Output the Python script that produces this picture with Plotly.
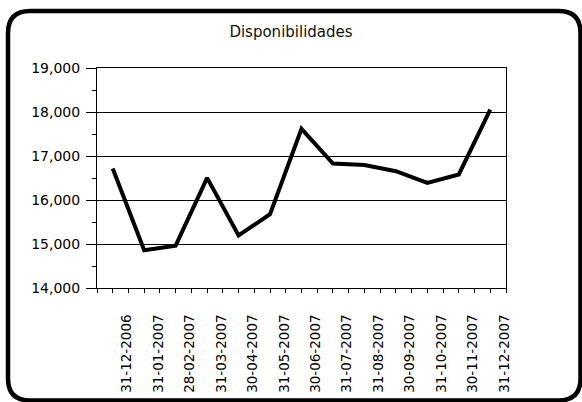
import plotly.graph_objects as go

dates = ["31-12-2006", "31-01-2007", "28-02-2007", "31-03-2007", "30-04-2007",
         "31-05-2007", "30-06-2007", "31-07-2007", "31-08-2007", "30-09-2007",
         "31-10-2007", "30-11-2007", "31-12-2007"]
values = [16716, 14856, 14962, 16503, 15194, 15677, 17618, 16828, 16797,
          16655, 16390, 16580, 18054]
title_text = "Disponibilidades"

W, H = 582, 402
L, R, T, B = 97, 506, 68, 288
pw, ph = R - L, B - T

def px(x):
    return (x - L) / pw

def py(y):
    return (B - y) / ph

idx = list(range(len(dates)))

fig = go.Figure()
fig.add_trace(go.Scatter(x=idx, y=values, mode="lines",
                         line=dict(color="black", width=4),
                         hoverinfo="skip", showlegend=False))

# rounded outer frame
x0, y0, x1, y1, r = 8, 11, 580.5, 400.5, 22
path = (f"M {px(x0+r)},{py(y0)} L {px(x1-r)},{py(y0)} Q {px(x1)},{py(y0)} {px(x1)},{py(y0+r)} "
        f"L {px(x1)},{py(y1-r)} Q {px(x1)},{py(y1)} {px(x1-r)},{py(y1)} "
        f"L {px(x0+r)},{py(y1)} Q {px(x0)},{py(y1)} {px(x0)},{py(y1-r)} "
        f"L {px(x0)},{py(y0+r)} Q {px(x0)},{py(y0)} {px(x0+r)},{py(y0)} Z")

fig.update_layout(
    width=W, height=H,
    margin=dict(l=L, r=W - R, t=T, b=H - B, pad=0, autoexpand=False),
    paper_bgcolor="white", plot_bgcolor="white",
    font=dict(family="DejaVu Sans", color="black", size=14),
    title=dict(text=title_text, x=0.5, xref="container",
               y=1 - 32 / H, yref="container", xanchor="center", yanchor="middle",
               font=dict(size=15, color="#111")),
    shapes=[dict(type="path", path=path, xref="paper", yref="paper",
                 line=dict(color="black", width=4.5), layer="above")],
)

fig.update_xaxes(
    automargin=False,
    range=[-0.5, len(dates) - 0.5],
    tickmode="array",
    tickvals=[i + 0.45 for i in idx],
    ticktext=dates,
    tickangle=-90,
    ticks="",
    ticklabelstandoff=20,
    tickfont=dict(size=13.5),
    showline=True, linecolor="black", linewidth=1, mirror=True,
    showgrid=False, zeroline=False,
    minor=dict(tickmode="linear", tick0=-0.5, dtick=0.5, ticks="outside",
               ticklen=4, tickcolor="black", tickwidth=1, showgrid=False),
)
fig.update_yaxes(
    automargin=False,
    range=[14000, 19000],
    tickmode="linear", tick0=14000, dtick=1000,
    tickformat=",",
    ticks="outside", ticklen=10, tickcolor="black", tickwidth=1,
    ticklabelstandoff=3,
    tickfont=dict(size=14),
    showline=True, linecolor="black", linewidth=1, mirror=True,
    showgrid=True, gridcolor="black", gridwidth=1, zeroline=False,
    minor=dict(tickmode="linear", tick0=14500, dtick=1000, ticks="outside",
               ticklen=4, tickcolor="black", tickwidth=1, showgrid=False),
)

fig.write_html("out.html", config={"displayModeBar": False},
               post_script="document.body.style.margin='0';document.body.style.overflow='hidden';")
